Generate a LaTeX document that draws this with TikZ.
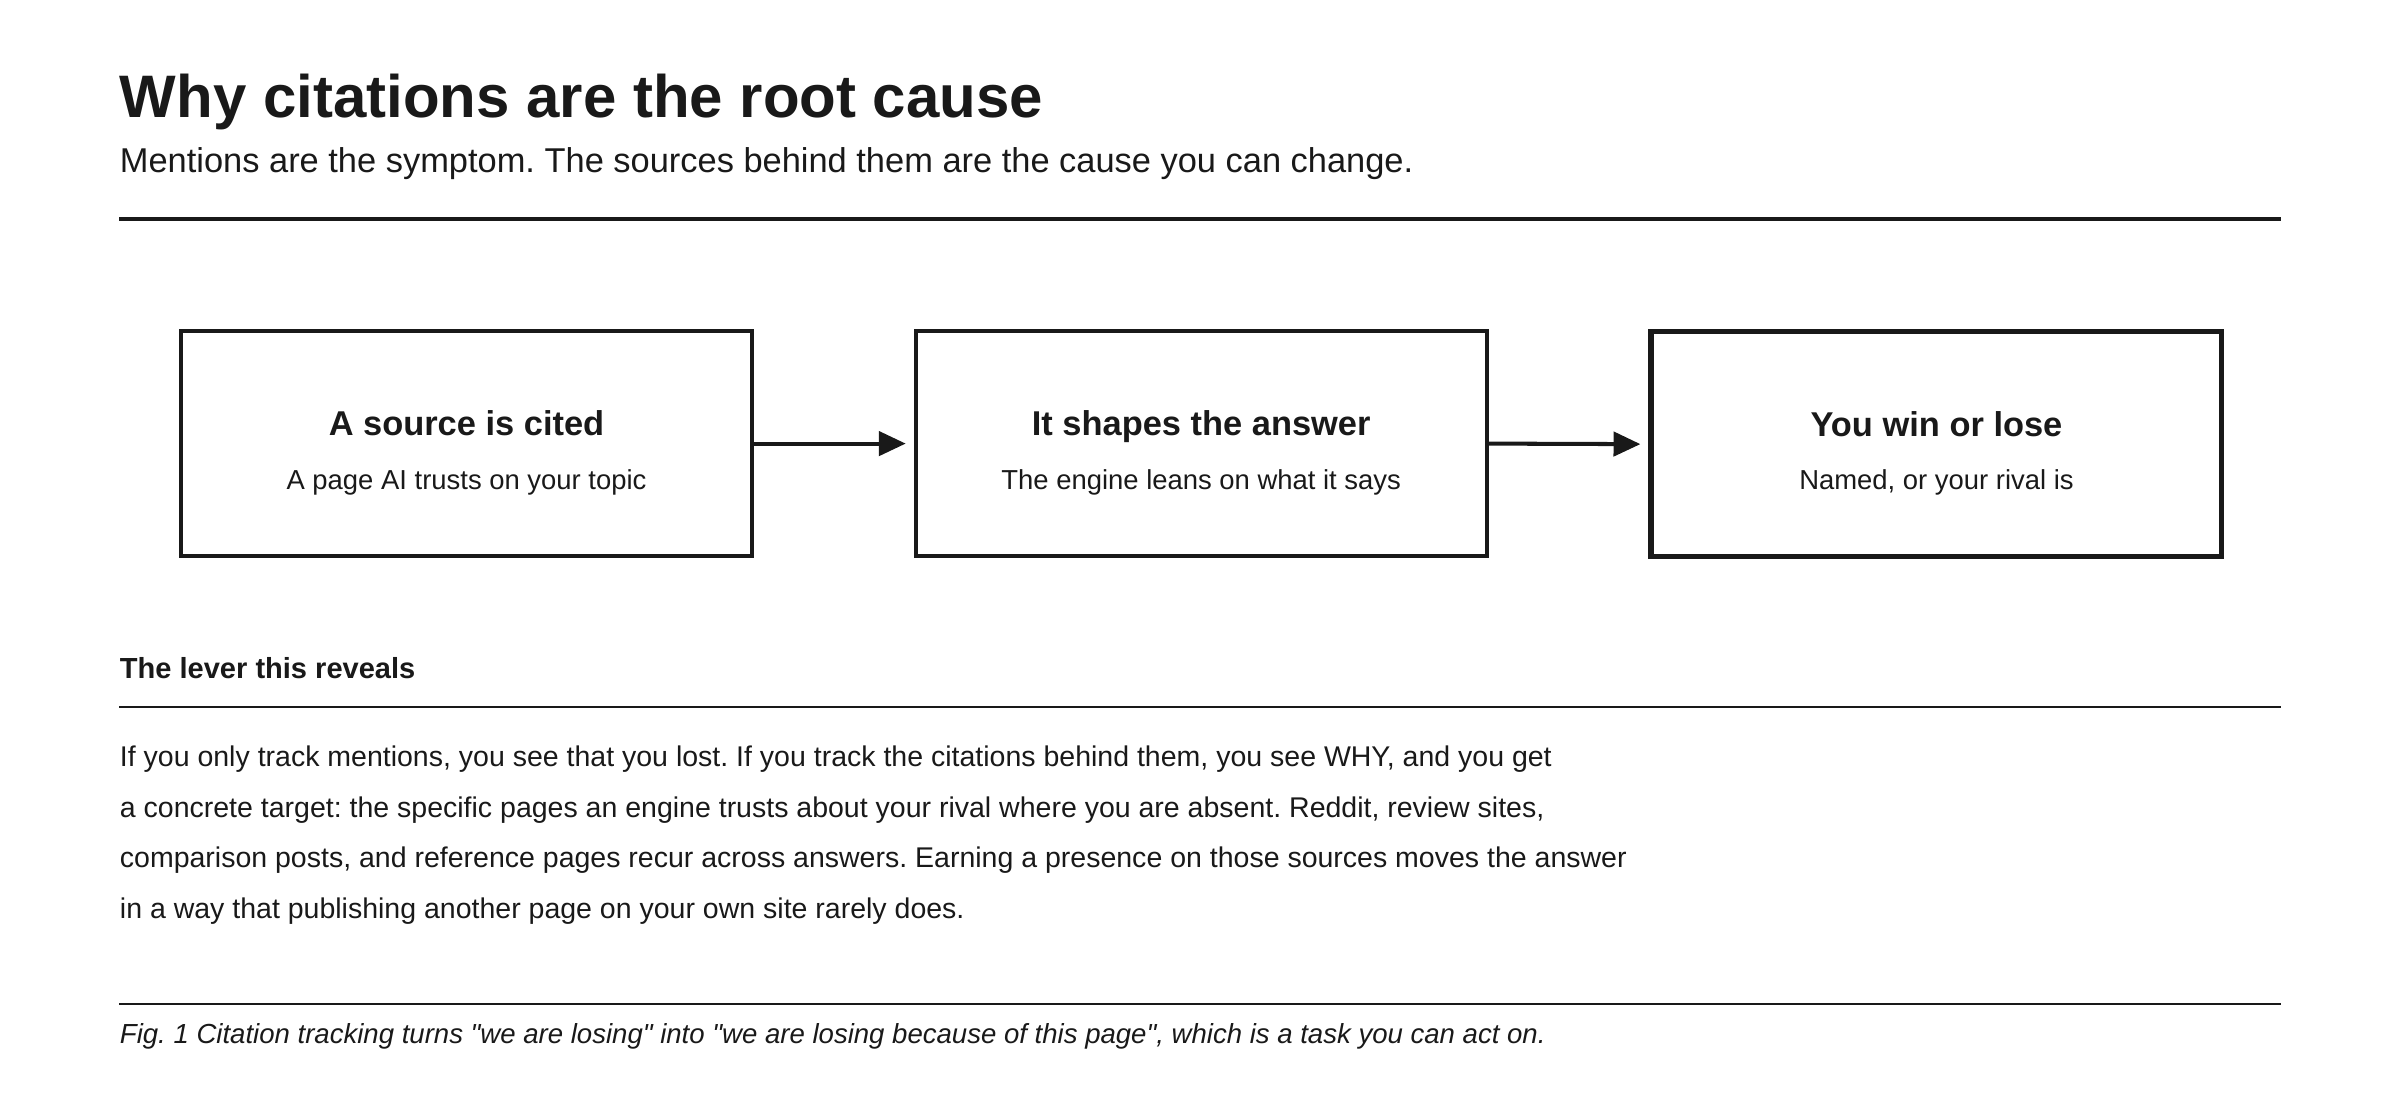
\documentclass[tikz,border=0pt]{standalone}
\usepackage{fontspec}
\setmainfont{Liberation Sans}[Ligatures=TeXOff]
\usetikzlibrary{positioning,arrows.meta}
\frenchspacing

\tikzset{
  stage/.style={draw=black!90,line width=1.5pt,minimum width=7.46cm,minimum height=2.94cm,inner sep=0pt},
  stagetitle/.style={font=\fontsize{12.8}{14}\selectfont\bfseries,text=black!90},
  stagesub/.style={font=\fontsize{10.2}{11}\selectfont,text=black!90},
  link/.style={-{Triangle[length=10pt,width=9pt]},line width=1.5pt,black!90},
  body/.style={font=\fontsize{10.6}{12}\selectfont,text=black!90,anchor=base west,inner sep=0pt}
}

\begin{document}
\begin{tikzpicture}[x=0.02cm,y=-0.02cm]
  \useasboundingbox (0,0) rectangle (1568,725);

  % Heading
  \node[anchor=base west,inner sep=0pt,font=\fontsize{22.3}{26}\selectfont\bfseries,text=black!90] (title) at (78,77) {Why citations are the root cause};
  \node[anchor=base west,inner sep=0pt,font=\fontsize{12.8}{15}\selectfont,text=black!90] (subtitle) at (78,113) {Mentions are the symptom. The sources behind them are the cause you can change.};
  \draw[line width=1.3pt,black!90] (78,143) -- (1490,143);

  % Chain of boxes
  \node[stage,anchor=north west] (cited) at (117,215) {};
  \node[stage,anchor=north west] (shapes) at (597,215) {};
  \node[stage,anchor=north west,line width=1.9pt] (win) at (1077,215) {};

  \node[stagetitle,anchor=base] at ([yshift=3pt]cited.center) {A source is cited};
  \node[stagesub,anchor=base] at ([yshift=-17pt]cited.center) {A page AI trusts on your topic};
  \node[stagetitle,anchor=base] at ([yshift=3pt]shapes.center) {It shapes the answer};
  \node[stagesub,anchor=base] at ([yshift=-17pt]shapes.center) {The engine leans on what it says};
  \node[stagetitle,anchor=base] at ([yshift=3pt]win.center) {You win or lose};
  \node[stagesub,anchor=base] at ([yshift=-17pt]win.center) {Named, or your rival is};

  \draw[link] (cited.east) -- ([xshift=-3pt]shapes.west);
  \draw[link] (shapes.east) -- ([xshift=-3pt]win.west);

  % The lever
  \node[body,font=\fontsize{10.8}{12}\selectfont\bfseries] (lever) at (78,443) {The lever this reveals};
  \draw[line width=0.7pt,black!90] (78,462) -- (1490,462);
  \node[body] at (78,501) {If you only track mentions, you see that you lost. If you track the citations behind them, you see WHY, and you get};
  \node[body] at (78,534) {a concrete target: the specific pages an engine trusts about your rival where you are absent. Reddit, review sites,};
  \node[body] at (78,567) {comparison posts, and reference pages recur across answers. Earning a presence on those sources moves the answer};
  \node[body] at (78,600) {in a way that publishing another page on your own site rarely does.};

  % Caption
  \draw[line width=0.7pt,black!90] (78,656) -- (1490,656);
  \node[body,font=\fontsize{10.25}{12}\selectfont\itshape] (caption) at (78,682) {Fig. 1 Citation tracking turns "we are losing" into "we are losing because of this page", which is a task you can act on.};
\end{tikzpicture}
\end{document}
